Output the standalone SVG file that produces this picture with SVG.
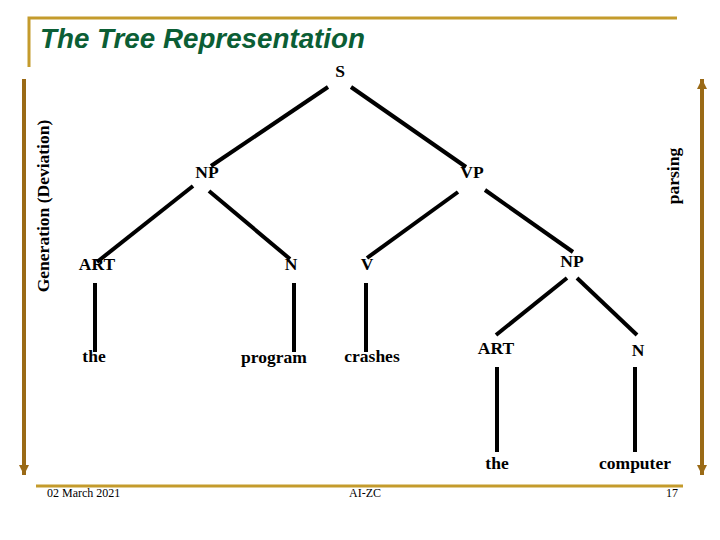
<svg xmlns="http://www.w3.org/2000/svg" width="720" height="540" viewBox="0 0 720 540">
<style>
.gold{stroke:#C49B2C;stroke-width:3;fill:none}
.brown{stroke:#9A6A16;stroke-width:4;fill:none}
.edge{stroke:#000;stroke-width:4;fill:none}
.lbl{font-family:"Liberation Serif","Times New Roman",serif;font-weight:bold;font-size:17.5px;fill:#000;text-anchor:middle}
.foot{font-family:"Liberation Serif","Times New Roman",serif;font-size:12px;fill:#000}
.title{font-family:"Liberation Sans",Arial,sans-serif;font-weight:bold;font-style:italic;font-size:27px;fill:#0B5E35}
</style>
<defs>
<marker id="ah" viewBox="0 0 10 10" refX="10" refY="5" markerWidth="2.6" markerHeight="2.6" orient="auto-start-reverse" markerUnits="strokeWidth">
<path d="M0,0 L10,5 L0,10 z" fill="#9A6A16"/>
</marker>
</defs>
<rect width="720" height="540" fill="#fff"/>
<g id="frame">
<path class="gold" d="M29,67 V18 H677"/>
<path class="gold" d="M36,486 H683"/>
<text class="title" x="40" y="48" textLength="325" lengthAdjust="spacingAndGlyphs">The Tree Representation</text>
<text class="foot" x="47" y="497">02 March 2021</text>
<text class="foot" x="365" y="497" text-anchor="middle">AI-ZC</text>
<text class="foot" x="678" y="497" text-anchor="end">17</text>
</g>
<g id="side-arrows">
<line class="brown" x1="24" y1="79" x2="24" y2="475" marker-end="url(#ah)"/>
<line class="brown" x1="702" y1="79" x2="702" y2="475" marker-start="url(#ah)" marker-end="url(#ah)"/>
<text class="lbl" transform="translate(49,206) rotate(-90)">Generation (Deviation)</text>
<text class="lbl" transform="translate(679,176) rotate(-90)">parsing</text>
</g>
<g id="connectors">
<line class="edge" x1="328" y1="87" x2="211" y2="166"/>
<line class="edge" x1="351" y1="87" x2="466" y2="167"/>
<line class="edge" x1="193" y1="186" x2="97" y2="262"/>
<line class="edge" x1="209" y1="191" x2="290" y2="259"/>
<line class="edge" x1="458" y1="192" x2="367" y2="258"/>
<line class="edge" x1="485" y1="190" x2="573" y2="252"/>
<line class="edge" x1="567" y1="278" x2="496" y2="335"/>
<line class="edge" x1="577" y1="278" x2="637" y2="335"/>
<line class="edge" x1="95" y1="283" x2="95" y2="352"/>
<line class="edge" x1="294" y1="283" x2="294" y2="352"/>
<line class="edge" x1="366" y1="283" x2="366" y2="352"/>
<line class="edge" x1="497" y1="367" x2="497" y2="452"/>
<line class="edge" x1="635" y1="367" x2="635" y2="452"/>
</g>
<g id="n-S"><text class="lbl" x="340" y="77">S</text></g>
<g id="n-NP"><text class="lbl" x="207" y="178">NP</text></g>
<g id="n-VP"><text class="lbl" x="472" y="178">VP</text></g>
<g id="n-ART"><text class="lbl" x="97" y="270">ART</text></g>
<g id="n-N"><text class="lbl" x="291" y="270">N</text></g>
<g id="n-V"><text class="lbl" x="367" y="270">V</text></g>
<g id="n-NP2"><text class="lbl" x="572" y="267">NP</text></g>
<g id="n-the"><text class="lbl" x="94" y="362">the</text></g>
<g id="n-program"><text class="lbl" x="274" y="363">program</text></g>
<g id="n-crashes"><text class="lbl" x="372" y="362">crashes</text></g>
<g id="n-ART2"><text class="lbl" x="496" y="354">ART</text></g>
<g id="n-N2"><text class="lbl" x="638" y="356">N</text></g>
<g id="n-the2"><text class="lbl" x="497" y="469">the</text></g>
<g id="n-computer"><text class="lbl" x="635" y="469">computer</text></g>
</svg>
